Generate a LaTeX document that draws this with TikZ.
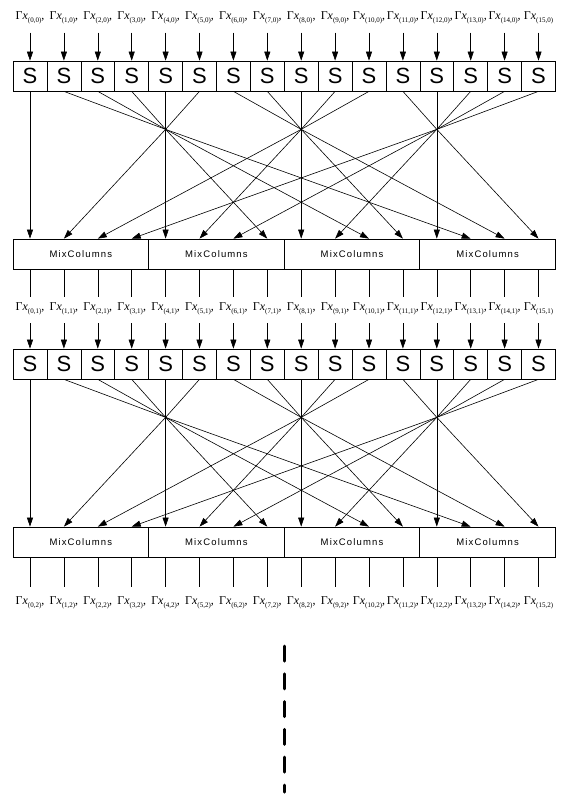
\documentclass[tikz,border=0pt]{standalone}
\usepackage{fontspec}
\newfontfamily\sboxfont{Liberation Sans}
\newfontfamily\mixfont[LetterSpace=12]{Liberation Sans}
\newfontfamily\lblfont{Liberation Serif}
\usepackage{tikz}
\usetikzlibrary{arrows.meta, positioning}

\newcommand{\gx}[2]{Γ\textit{x}\raisebox{-3pt}{\fontsize{7}{7}\selectfont(#1,#2)}}

\begin{document}
\begin{tikzpicture}[
  x=1pt, y=-1pt,
  sbox/.style={draw, line width=0.7pt, minimum width=33.9pt, minimum height=30pt,
               inner sep=0pt, font=\sboxfont\fontsize{22}{22}\selectfont},
  mixbox/.style={draw, line width=0.7pt, minimum width=135.6pt, minimum height=30pt,
                 inner sep=0pt, font=\mixfont\fontsize{9.5}{10}\selectfont},
  lbl/.style={anchor=base, inner xsep=0pt, inner ysep=9pt, text height=4pt,
              text depth=4pt, font=\lblfont\fontsize{12}{13}\selectfont},
  arrow/.style={-{Triangle[length=9pt, width=6pt]}, line width=0.6pt},
  wire/.style={line width=0.6pt},
  dots/.style={line width=3pt, line cap=round, dash pattern=on 15pt off 12.8pt},
]
\useasboundingbox (0,0) rectangle (565,796);

% two rounds of S-boxes, with the byte labels between them
\foreach \i in {0,...,15} {
  \node[lbl] (in-\i)  at (30+33.9*\i, 19.5) {\gx{\i}{0}\ifnum\i<15,\fi};
  \node[sbox] (s1-\i) at (30+33.9*\i, 76)   {S};
  \node[lbl] (mid-\i) at (30+33.9*\i, 310)  {\gx{\i}{1}\ifnum\i<15,\fi};
  \node[sbox] (s2-\i) at (30+33.9*\i, 364)  {S};
  \node[lbl] (out-\i) at (30+33.9*\i, 604)  {\gx{\i}{2}\ifnum\i<15,\fi};
}
\foreach \k in {0,...,3} {
  \node[mixbox] (mix1-\k) at (80.8+135.6*\k, 254) {MixColumns};
  \node[mixbox] (mix2-\k) at (80.8+135.6*\k, 542) {MixColumns};
}

% shift rows: every moved byte passes through one crossing point
\foreach \b in {1,2} {
  \foreach \k/\c in {1/4, 2/8, 3/12}
    \path (s\b-\c.south) ++(0,38) coordinate (p\b-\k);
  \foreach \c in {0,4,8,12}
    \draw[arrow] (s\b-\c) -- (s\b-\c |- mix\b-0.north);
  \foreach \j/\k/\t in {1/1/13, 2/1/10, 3/1/7, 5/1/1,
                        6/2/14, 7/2/11, 9/2/5, 10/2/2,
                        11/3/15, 13/3/9, 14/3/6, 15/3/3}
    \draw[arrow] (s\b-\j.south) -- (p\b-\k) -- (s\b-\t.south |- mix\b-0.north);
}

\foreach \i in {0,...,15} {
  \draw[arrow] (in-\i) -- (s1-\i);
  \draw[wire]  (mid-\i |- mix1-0.south) -- (mid-\i);
  \draw[arrow] (mid-\i) -- (s2-\i);
  \draw[wire, shorten >=4pt] (out-\i |- mix2-0.south) -- (out-\i);
}

\coordinate (dots-top) at (284.6, 646);
\coordinate (dots-bot) at (284.6, 792);
\draw[dots] (dots-top) -- (dots-bot);
\end{tikzpicture}
\end{document}
